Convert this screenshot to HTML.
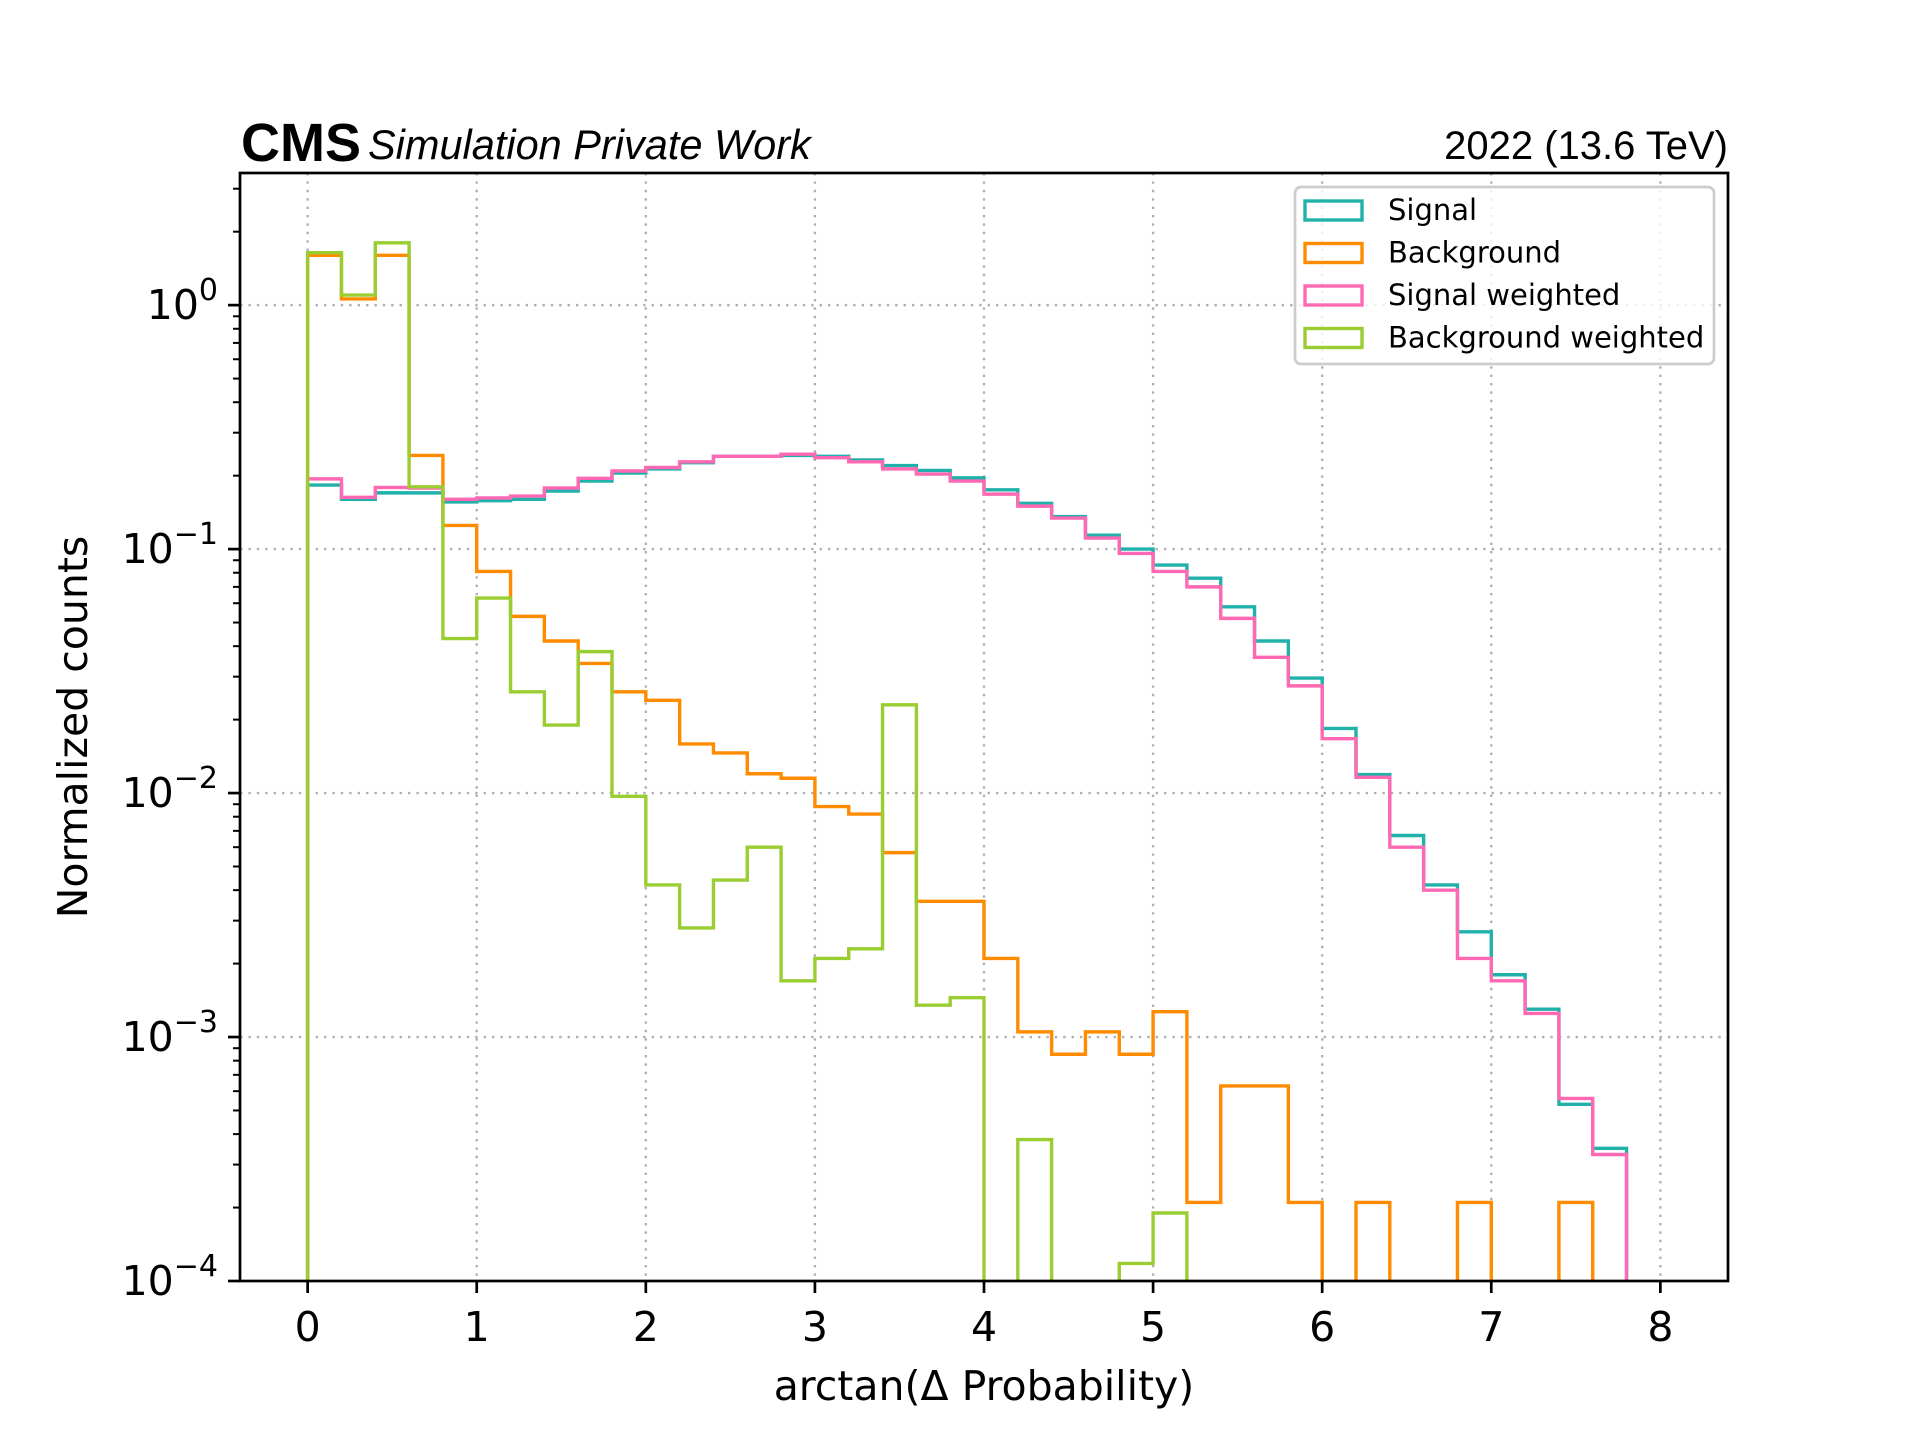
<!DOCTYPE html>
<html><head><meta charset="utf-8">
<style>
html,body{margin:0;padding:0;background:#fff;}
svg{display:block;}
</style></head>
<body>
<svg id="chart" width="1920" height="1440" viewBox="0 0 1920 1440" xmlns="http://www.w3.org/2000/svg" font-family="'DejaVu Sans', sans-serif">
<defs><clipPath id="plotclip"><rect x="240" y="173" width="1488" height="1108"/></clipPath></defs>
<rect x="0" y="0" width="1920" height="1440" fill="#fff"/>
<g id="grid"></g>
<g id="series" clip-path="url(#plotclip)"></g>
<rect x="240" y="173" width="1488" height="1108" fill="none" stroke="#000" stroke-width="2.7"/>
<g id="xticks"></g>
<g id="yticks"></g>
<text x="984" y="1400" font-size="41" text-anchor="middle">arctan(Δ Probability)</text>
<text transform="translate(87,727) rotate(-90)" font-size="41" text-anchor="middle">Normalized counts</text>
<text x="241" y="161" font-family="'Liberation Sans', sans-serif" font-weight="bold" font-size="54">CMS</text>
<text x="368" y="159" font-family="'Liberation Sans', sans-serif" font-style="italic" font-size="41.5">Simulation Private Work</text>
<text x="1728" y="159" font-family="'Liberation Sans', sans-serif" font-size="40" text-anchor="end">2022 (13.6 TeV)</text>
<g id="legend">
<rect x="1295" y="187" width="419" height="177" rx="6" fill="#fff" fill-opacity="0.8" stroke="#ccc" stroke-width="2.7"/>
</g>
</svg>
<script>
const binEdgesStart = 0;
const binWidth = 0.2;
const seriesNames = ["Signal","Background","Signal weighted","Background weighted"];
const seriesColors = ["#20b2aa","#ff8c00","#ff69b4","#9acd32"];
const signal = [0.183,0.16,0.17,0.17,0.156,0.158,0.16,0.173,0.19,0.205,0.213,0.226,0.24,0.24,0.242,0.24,0.232,0.22,0.21,0.196,0.175,0.154,0.136,0.114,0.1,0.086,0.076,0.058,0.042,0.0296,0.0184,0.0119,0.0067,0.0042,0.0027,0.0018,0.0013,0.00053,0.00035,0];
const background = [1.6,1.06,1.6,0.242,0.125,0.081,0.053,0.042,0.034,0.026,0.024,0.0159,0.0146,0.012,0.0115,0.0088,0.0082,0.0057,0.0036,0.0036,0.0021,0.00105,0.00085,0.00105,0.00085,0.00127,0.00021,0.00063,0.00063,0.00021,0,0.00021,0,0,0.00021,0,0,0.00021,0,0];
const signalWeighted = [0.194,0.163,0.179,0.178,0.16,0.162,0.165,0.178,0.195,0.209,0.216,0.228,0.24,0.24,0.245,0.237,0.228,0.213,0.203,0.19,0.168,0.15,0.134,0.111,0.096,0.081,0.07,0.052,0.036,0.0275,0.0167,0.0116,0.006,0.004,0.0021,0.0017,0.00125,0.00056,0.00033,0];
const backgroundWeighted = [1.64,1.1,1.8,0.18,0.043,0.063,0.026,0.019,0.038,0.0097,0.0042,0.0028,0.0044,0.006,0.0017,0.0021,0.0023,0.023,0.00135,0.00145,0,0.00038,0,0,0.000118,0.00019,0,0,0,0,0,0,0,0,0,0,0,0,0,0];
const xTickLabels = ["0","1","2","3","4","5","6","7","8"];
const yTickExps = [-4,-3,-2,-1,0];

const NS = "http://www.w3.org/2000/svg";
const X0=240, X1=1728, Y0=1281, Y1=173;
const xMin=-0.4, xMax=8.4, logMin=-4, logMax=Math.log10(3.48);
function xs(v){return X0+(v-xMin)/(xMax-xMin)*(X1-X0);}
function ys(v){ if(v<=0) return Y0+50; return Y0-(Math.log10(v)-logMin)/(logMax-logMin)*(Y0-Y1);}
function mk(tag,attrs,parent){const e=document.createElementNS(NS,tag);for(const k in attrs)e.setAttribute(k,attrs[k]);parent.appendChild(e);return e;}

const grid=document.getElementById('grid');
const xt=document.getElementById('xticks');
const yt=document.getElementById('yticks');
xTickLabels.forEach((lab,i)=>{
  const v=parseFloat(lab), x=xs(v);
  const g=mk('line',{x1:x,x2:x,y1:Y1,y2:Y0,stroke:'#b0b0b0','stroke-width':2.4,'stroke-dasharray':'2.4,6'},grid);
  
  
  const t=mk('line',{x1:x,x2:x,y1:Y0,y2:Y0+12,stroke:'#000','stroke-width':2.7},xt);
  
  
  const tx=mk('text',{x:x,y:Y0+60,'font-size':41,'text-anchor':'middle'},xt);
  
  
  tx.textContent=lab;
});
yTickExps.forEach(e=>{
  const y=ys(Math.pow(10,e));
  if(e>logMin){
    const g=mk('line',{x1:X0,x2:X1,y1:y,y2:y,stroke:'#b0b0b0','stroke-width':2.4,'stroke-dasharray':'2.4,6'},grid);
    
    
  }
  const t=mk('line',{x1:X0-12,x2:X0,y1:y,y2:y,stroke:'#000','stroke-width':2.7},yt);
  
  
  const tx=mk('text',{x:X0-22,y:y+14,'font-size':41,'text-anchor':'end'},yt);
  
  
  const a=document.createElementNS(NS,'tspan');a.textContent='10';tx.appendChild(a);
  const b=document.createElementNS(NS,'tspan');b.setAttribute('dy','-19');b.setAttribute('font-size','30');
  b.textContent=(e<0?'\u2212'+(-e):String(e));tx.appendChild(b);
});
for(let e=-4;e<1;e++){
  for(let m=2;m<=9;m++){
    const v=m*Math.pow(10,e); const y=ys(v);
    if(y<Y1) continue;
    const t=mk('line',{x1:X0-7,x2:X0,y1:y,y2:y,stroke:'#000','stroke-width':2},yt);
    
    
  }
}

const seriesData=[signal,background,signalWeighted,backgroundWeighted];
const seriesSlugs=['signal','background','signal-weighted','background-weighted'];
const sg=document.getElementById('series');
seriesData.forEach((vals,si)=>{
  let d='M'+xs(binEdgesStart)+','+(Y0+50);
  vals.forEach((v,i)=>{
    const xa=xs(binEdgesStart+i*binWidth), xb=xs(binEdgesStart+(i+1)*binWidth), y=ys(v);
    d+=' L'+xa+','+y+' L'+xb+','+y;
  });
  d+=' L'+xs(binEdgesStart+vals.length*binWidth)+','+(Y0+50);
  const p=mk('path',{d:d,fill:'none',stroke:seriesColors[si],'stroke-width':3.4,'stroke-linejoin':'miter'},sg);
  
  
});

const lg=document.getElementById('legend');
seriesNames.forEach((n,i)=>{
  const y=210+i*42.5;
  const r=mk('rect',{x:1305,y:y-9,width:57,height:19,fill:'none',stroke:seriesColors[i],'stroke-width':3.4},lg);
  
  
  const t=mk('text',{x:1388,y:y+10,'font-size':29},lg);
  
  
  t.textContent=n;
});
</script>
</body></html>
